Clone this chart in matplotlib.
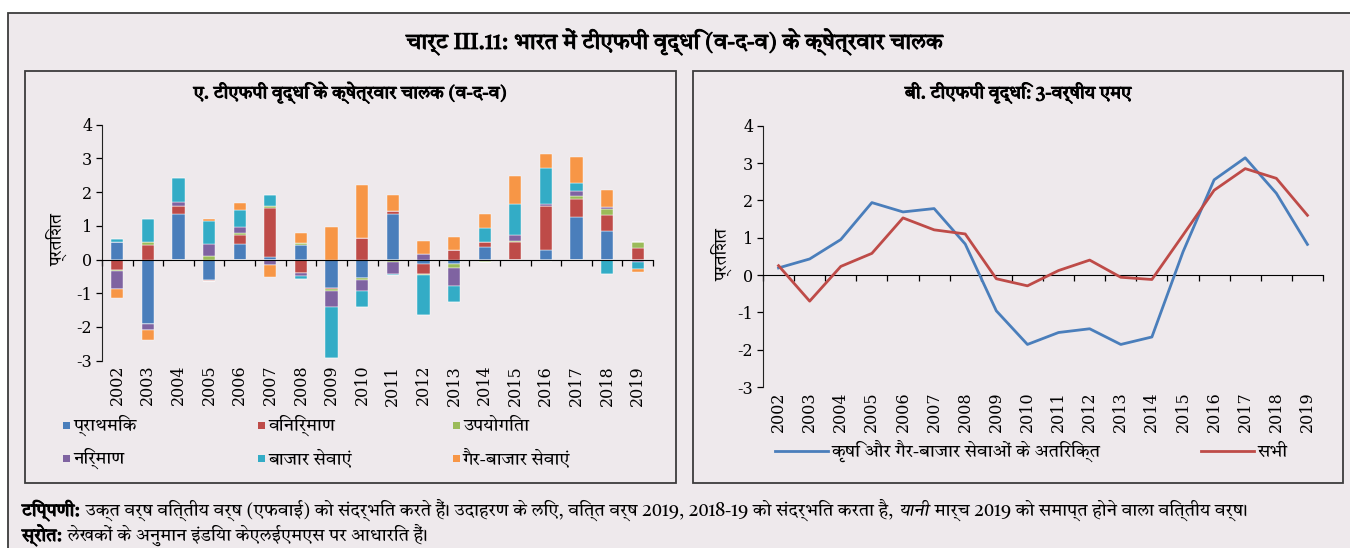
import numpy as np
import matplotlib
matplotlib.use("Agg")
import matplotlib.pyplot as plt
import matplotlib.patheffects as pe
from matplotlib import font_manager
from matplotlib.ft2font import FT2Font
from matplotlib.patches import Rectangle
from matplotlib.lines import Line2D

plt.rcParams["axes.unicode_minus"] = False

# ---- data ----
years = ["2002", "2003", "2004", "2005", "2006", "2007", "2008", "2009", "2010",
         "2011", "2012", "2013", "2014", "2015", "2016", "2017", "2018", "2019"]

# panel A: sectoral contributions to TFP growth (y-o-y), percent
primary      = [0.52, -1.90, 1.36, -0.61, 0.45, 0.07, 0.44, -0.83, -0.56, 1.36, -0.12, -0.14, 0.37, 0.00, 0.27, 1.26, 0.85, 0.00]
manufacturing = [-0.30, 0.43, 0.24, -0.04, 0.29, 1.47, -0.39, -0.05, 0.64, 0.09, -0.32, 0.28, 0.16, 0.53, 1.31, 0.53, 0.47, 0.35]
utilities    = [-0.05, 0.09, 0.00, 0.10, 0.05, 0.05, 0.04, -0.05, -0.06, -0.07, -0.03, -0.12, -0.07, 0.02, -0.05, 0.10, 0.18, 0.18]
construction = [-0.51, -0.20, 0.12, 0.36, 0.17, -0.15, -0.10, -0.49, -0.30, -0.37, 0.15, -0.53, 0.00, 0.18, 0.08, 0.14, 0.06, -0.08]
market_serv  = [0.09, 0.68, 0.70, 0.68, 0.52, 0.33, -0.09, -1.50, -0.49, -0.03, -1.16, -0.47, 0.40, 0.93, 1.07, 0.25, -0.42, -0.21]
nonmarket_serv = [-0.28, -0.30, -0.05, 0.06, 0.21, -0.36, 0.31, 0.97, 1.58, 0.46, 0.39, 0.39, 0.42, 0.83, 0.40, 0.75, 0.50, -0.09]

sector_names = ["प्राथमिक", "विनिर्माण", "उपयोगिता", "निर्माण", "बाजार सेवाएं", "गैर-बाजार सेवाएं"]

# panel B: TFP growth, 3-year moving average, percent
ex_agri_nonmarket = [0.19, 0.43, 0.95, 1.94, 1.69, 1.78, 0.83, -0.96, -1.86, -1.54, -1.44, -1.86, -1.66, 0.62, 2.55, 3.14, 2.19, 0.82]
all_sectors       = [0.25, -0.70, 0.23, 0.58, 1.53, 1.21, 1.10, -0.10, -0.29, 0.12, 0.40, -0.06, -0.12, 1.07, 2.27, 2.85, 2.59, 1.60]

line_names = ["कृषि और गैर-बाजार सेवाओं के अतिरिक्त", "सभी"]

SECTOR_COLORS = ["#4A7EBB", "#BE4B48", "#9BBB59", "#7F63A1", "#33ACC6", "#F79646"]
LINE_COLORS = ["#4A7EBB", "#BE4B48"]
BG = "#EEE9EC"
EDGE = "#3C3C3C"

W, H = 1350, 548


def find_devanagari_font():
    """Pick an installed font with Devanagari glyphs, preferring sans, non-mono faces."""
    found = []
    for entry in font_manager.fontManager.ttflist:
        try:
            if 0x0915 in FT2Font(entry.fname).get_charmap():
                found.append(entry.name)
        except Exception:
            continue
    if not found:
        return None

    def score(name):
        low = name.lower()
        s = 0
        if "devanagari" in low:
            s -= 4
        if "sans" in low:
            s -= 2
        if "mono" in low:
            s += 5
        if "ui" in low:
            s += 1
        return s

    return sorted(set(found), key=score)[0]


deva = find_devanagari_font()
HINDI = ([deva] if deva else []) + ["Liberation Sans", "DejaVu Sans"]
SERIF = "DejaVu Serif"
# the Devanagari face has no bold cut, so thicken bold text with a stroke
FAKE_BOLD = [pe.withStroke(linewidth=0.7, foreground="black")]


def fx(px):
    return px / W


def fy(px):
    return 1 - px / H


def px_axes(fig, x0, y0, x1, y1):
    """Axes from pixel box (top-left origin)."""
    return fig.add_axes([fx(x0), fy(y1), (x1 - x0) / W, (y1 - y0) / H])


def style_axes(ax, n):
    ax.set_facecolor("none")
    ax.set_xlim(-0.5, n - 0.5)
    ax.set_ylim(-3, 4)
    ax.set_yticks(range(-3, 5))
    for s in ("top", "right"):
        ax.spines[s].set_visible(False)
    ax.spines["bottom"].set_position(("data", 0))
    ax.spines["bottom"].set_color("black")
    ax.spines["left"].set_color("#222222")
    # tick marks between categories on the zero line
    ax.set_xticks(np.arange(n + 1) - 0.5)
    ax.tick_params(axis="x", direction="out", length=4, width=0.9, labelbottom=False)
    ax.tick_params(axis="y", direction="out", length=4, width=0.9, pad=3, labelsize=11.5)
    for lab in ax.get_yticklabels():
        lab.set_family(SERIF)
    # year labels sit at the bottom of the plot, not on the zero line
    sec = ax.secondary_xaxis("bottom")
    sec.set_xticks(np.arange(n), years)
    sec.tick_params(length=0, pad=3, labelsize=11.5, labelrotation=90)
    for lab in sec.get_xticklabels():
        lab.set_family(SERIF)
    sec.spines["bottom"].set_visible(False)


fig = plt.figure(figsize=(W / 100, H / 100), dpi=100)
fig.patch.set_facecolor("white")

# outer frame and panel boxes
fig.add_artist(Rectangle((fx(8), -0.05), 1.2, 1.05 - 13 / H, transform=fig.transFigure,
                         facecolor=BG, edgecolor=EDGE, linewidth=1.3, clip_on=False, zorder=-5))
for (x0, y0, x1, y1) in [(25, 71, 676, 483), (693, 71, 1343, 483)]:
    fig.add_artist(Rectangle((fx(x0), fy(y1)), (x1 - x0) / W, (y1 - y0) / H,
                             transform=fig.transFigure, facecolor="none",
                             edgecolor=EDGE, linewidth=1.3, zorder=-4))

fig.text(fx(675), fy(42), "चार्ट III.11: भारत में टीएफपी वृद्धि (व-द-व) के क्षेत्रवार चालक",
         ha="center", va="center", fontsize=16, fontweight="bold", family=HINDI,
         path_effects=FAKE_BOLD)
fig.text(fx(350), fy(93), "ए. टीएफपी वृद्धि के क्षेत्रवार चालक (व-द-व)",
         ha="center", va="center", fontsize=13, fontweight="bold", family=HINDI,
         path_effects=FAKE_BOLD)
fig.text(fx(1018), fy(93), "बी. टीएफपी वृद्धि: 3-वर्षीय एमए",
         ha="center", va="center", fontsize=13, fontweight="bold", family=HINDI,
         path_effects=FAKE_BOLD)

# ---- panel A: stacked bars (positives and negatives stacked separately) ----
n = len(years)
x = np.arange(n)
ax1 = px_axes(fig, 102, 124.7, 653, 360.7)
series = [primary, manufacturing, utilities, construction, market_serv, nonmarket_serv]
pos_base = np.zeros(n)
neg_base = np.zeros(n)
for vals, color in zip(series, SECTOR_COLORS):
    v = np.array(vals)
    pos = np.where(v > 0, v, 0)
    neg = np.where(v < 0, v, 0)
    ax1.bar(x, pos, 0.4, bottom=pos_base, color=color, edgecolor="white", linewidth=0.3, zorder=2)
    ax1.bar(x, neg, 0.4, bottom=neg_base, color=color, edgecolor="white", linewidth=0.3, zorder=2)
    pos_base += pos
    neg_base += neg
style_axes(ax1, n)
fig.text(fx(57), fy(240), "प्रतिशत", rotation=90, ha="center", va="center",
         fontsize=12.5, family=HINDI)

# legend: 3 columns x 2 rows, entries share a baseline per row
for i, (name, color) in enumerate(zip(sector_names, SECTOR_COLORS)):
    col, row = i % 3, i // 3
    xm = [63, 258, 453][col]
    yc = [425, 458][row]
    fig.add_artist(Rectangle((fx(xm), fy(yc + 4)), 7 / W, 7 / H, transform=fig.transFigure,
                             facecolor=color, edgecolor="none"))
    fig.text(fx(xm + 10), fy(yc + 6), name, ha="left", va="baseline", fontsize=13,
             family=HINDI)

# ---- panel B: 3-year moving average lines ----
ax2 = px_axes(fig, 763, 125.7, 1323, 387)
ax2.plot(x, ex_agri_nonmarket, color=LINE_COLORS[0], linewidth=2.0, zorder=3)
ax2.plot(x, all_sectors, color=LINE_COLORS[1], linewidth=2.0, zorder=3)
style_axes(ax2, n)
fig.text(fx(722), fy(255), "प्रतिशत", rotation=90, ha="center", va="center",
         fontsize=12.5, family=HINDI)

for name, color, xs in zip(line_names, LINE_COLORS, [775, 1201]):
    fig.add_artist(Line2D([fx(xs), fx(xs + 53)], [fy(451), fy(451)], transform=fig.transFigure,
                          color=color, linewidth=2.0))
    fig.text(fx(xs + 57), fy(457), name, ha="left", va="baseline", fontsize=13, family=HINDI)

# ---- notes ----
renderer = fig.canvas.get_renderer()


def text_run(y, pieces, size=13, x0=22):
    """Draw consecutive text pieces on one baseline."""
    x = x0
    for txt, weight, style in pieces:
        t = fig.text(fx(x), fy(y), txt, ha="left", va="baseline", fontsize=size,
                     fontweight=weight, fontstyle=style, family=HINDI,
                     path_effects=FAKE_BOLD if weight == "bold" else None)
        x = t.get_window_extent(renderer).x1 + 1


text_run(516, [("टिप्पणी:", "bold", "normal"),
               (" उक्त वर्ष वित्तीय वर्ष (एफवाई) को संदर्भित करते हैं। उदाहरण के लिए, वित्त वर्ष 2019, 2018-19 को संदर्भित करता है, ", "normal", "normal"),
               ("यानी", "normal", "italic"),
               (" मार्च 2019 को समाप्त होने वाला वित्तीय वर्ष।", "normal", "normal")])
text_run(541, [("स्रोत:", "bold", "normal"),
               (" लेखकों के अनुमान इंडिया केएलईएमएस पर आधारित हैं।", "normal", "normal")])

fig.savefig("out.png", dpi=100)
